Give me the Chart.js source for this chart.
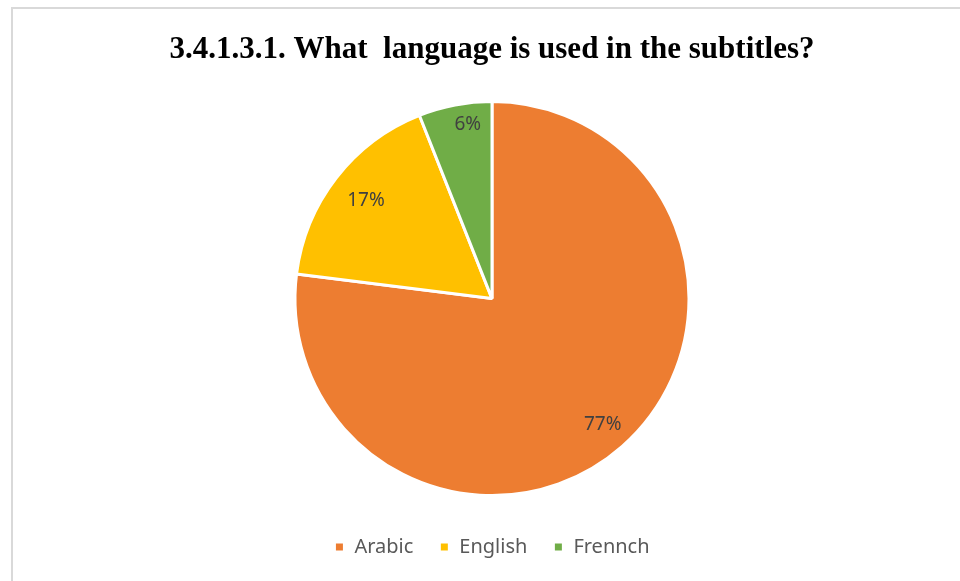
<!DOCTYPE html>
<html lang="en">

<head>
    <meta charset="UTF-8">
    <title>Subtitles language</title>
    <style>
        body { margin: 0; background: #fff; }
        .frame {
            position: absolute; left: 11px; top: 7px;
            width: 1000px; height: 640px;
            border: 2px solid #d9d9d9;
        }
        .wrap { position: absolute; left: 0; top: 0; width: 960px; height: 581px; }
    </style>
</head>

<body>
    <div class="frame"></div>
    <div class="wrap">
        <canvas id="canvas" width="960" height="581"></canvas>
    </div>

    <script src="https://cdn.jsdelivr.net/npm/chart.js@4.4.0/dist/chart.umd.min.js"></script>
    <script>
        const languages = ['Arabic', 'English', 'Frennch'];
        const shares = [77, 17, 6];
        const sliceColors = ['#ED7D31', '#FFC000', '#70AD47'];

        // percent labels drawn inside each slice
        const sliceLabels = {
            id: 'sliceLabels',
            afterDatasetsDraw(chart, args, opts) {
                const ctx = chart.ctx;
                const meta = chart.getDatasetMeta(0);
                ctx.save();
                ctx.font = opts.font;
                ctx.fillStyle = opts.color;
                ctx.textAlign = 'center';
                ctx.textBaseline = 'middle';
                meta.data.forEach(function (arc, i) {
                    const p = arc.getProps(['x', 'y', 'startAngle', 'endAngle', 'outerRadius'], true);
                    const mid = (p.startAngle + p.endAngle) / 2 + opts.turn[i];
                    const r = p.outerRadius * opts.radius[i];
                    ctx.fillText(shares[i] + '%', p.x + Math.cos(mid) * r, p.y + Math.sin(mid) * r);
                });
                ctx.restore();
            }
        };

        const ctx = document.getElementById('canvas').getContext('2d');
        new Chart(ctx, {
            type: 'pie',
            data: {
                labels: languages,
                datasets: [{
                    data: shares,
                    backgroundColor: sliceColors,
                    borderColor: '#ffffff',
                    borderWidth: 3,
                    hoverOffset: 0
                }]
            },
            options: {
                responsive: false,
                animation: false,
                radius: 197,
                layout: { padding: { top: 0, bottom: 14, left: 24 } },
                plugins: {
                    title: {
                        display: true,
                        text: '3.4.1.3.1. What  language is used in the subtitles?',
                        color: '#000000',
                        font: { family: '"Liberation Serif", "Times New Roman", serif', size: 31, weight: 'bold' },
                        padding: { top: 31, bottom: 18 }
                    },
                    legend: {
                        position: 'bottom',
                        labels: {
                            color: '#595959',
                            font: { family: '"Noto Sans", "Open Sans", sans-serif', size: 20 },
                            boxWidth: 10,
                            boxHeight: 10,
                            padding: 26
                        }
                    },
                    tooltip: { enabled: false },
                    sliceLabels: {
                        font: '19px "Noto Sans", "Open Sans", sans-serif',
                        color: '#404040',
                        radius: [0.85, 0.81, 0.89],
                        turn: [0, 0, 0.05]
                    }
                }
            },
            plugins: [sliceLabels]
        });
    </script>
</body>

</html>
